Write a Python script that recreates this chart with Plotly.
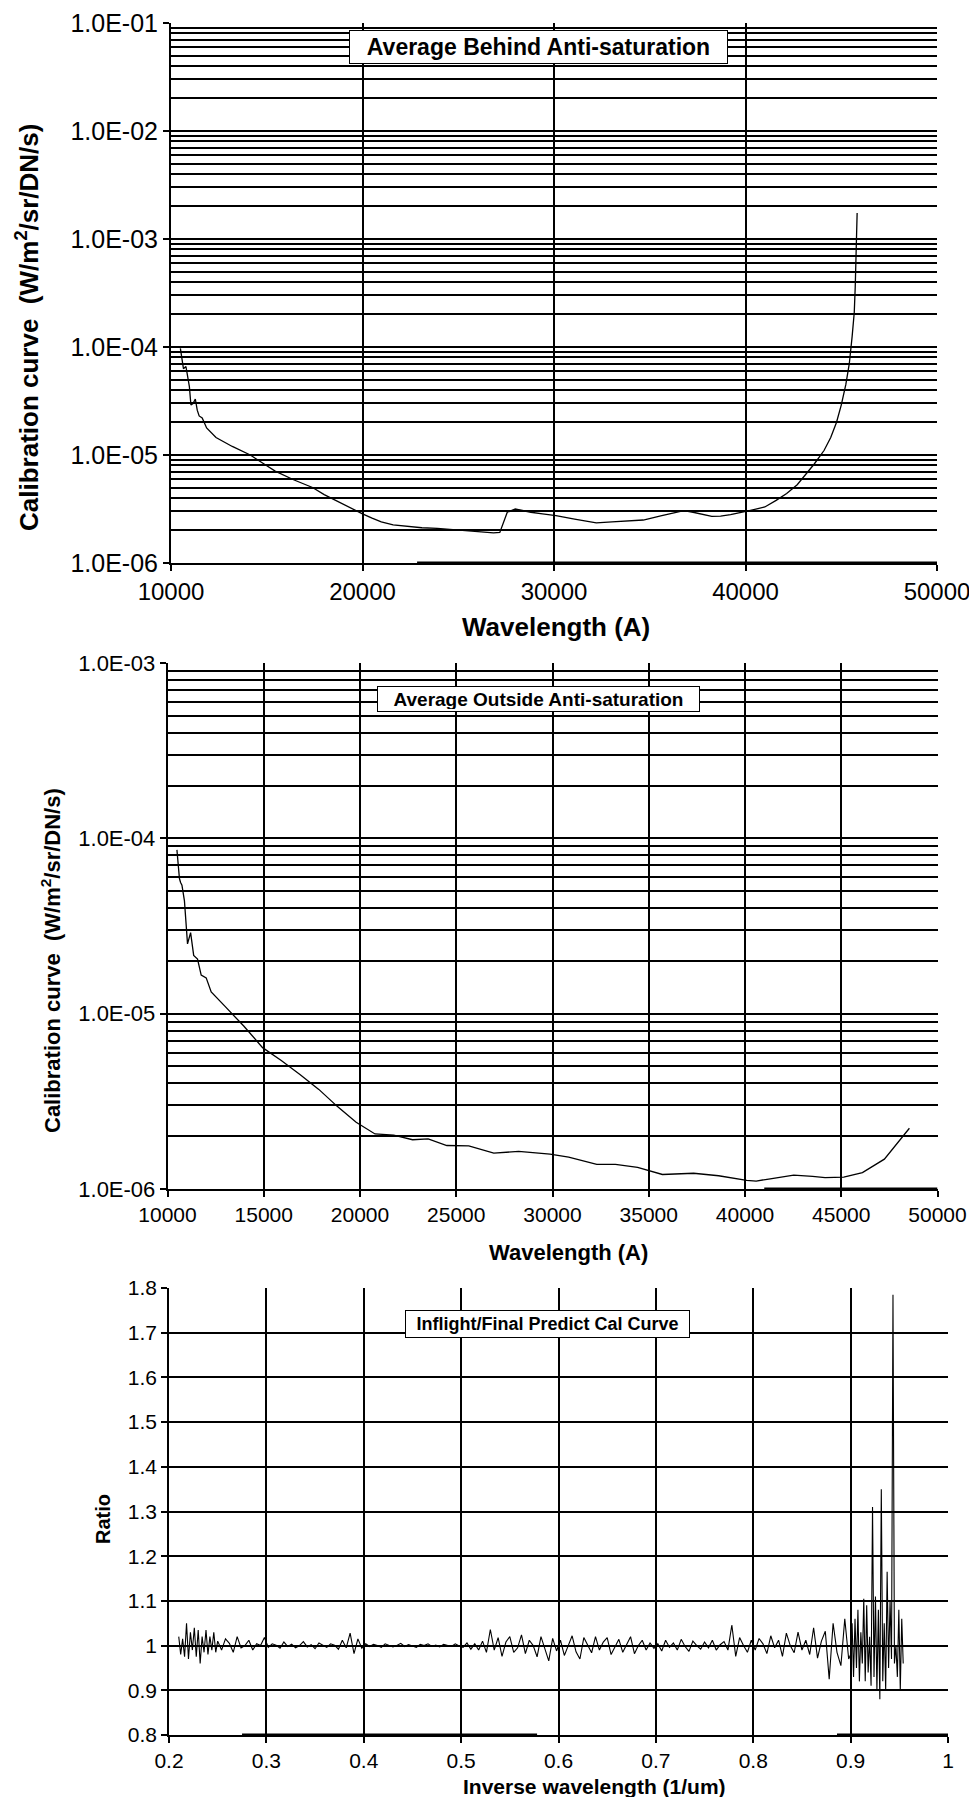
import plotly.graph_objects as go

# ---------------- Data: top panel (Average Behind Anti-saturation) ----------------
top_wl = [10490, 10560, 10650, 10780, 10880, 10960, 11040, 11150, 11270, 11370, 11470, 11630,
          11860, 12350, 13200, 14140, 14800, 15440, 16400, 17390, 18000, 18700, 19400, 20000,
          20500, 20980, 21600, 22280, 23100, 23910, 24700, 25540, 26200, 26840, 27170, 27560,
          27980, 28400, 28790, 29400, 30100, 31075, 31700, 32210, 33030, 34000, 34660, 35630,
          36300, 36780, 37260, 37800, 38240, 38700, 39220, 40200, 41010, 41600, 42150, 42700,
          43130, 43600, 44100, 44450, 44750, 45000, 45240, 45420, 45570, 45680, 45730, 45800, 45830]
top_cal = [9.7e-5, 8.0e-5, 6.3e-5, 6.6e-5, 4.9e-5, 4.3e-5, 2.9e-5, 3.0e-5, 3.3e-5, 2.6e-5, 2.3e-5, 2.2e-5,
           1.78e-5, 1.45e-5, 1.2e-5, 1.0e-5, 8.4e-6, 7.1e-6, 5.9e-6, 5.0e-6, 4.3e-6, 3.7e-6, 3.2e-6, 2.85e-6,
           2.6e-6, 2.4e-6, 2.25e-6, 2.19e-6, 2.12e-6, 2.09e-6, 2.03e-6, 1.99e-6, 1.95e-6, 1.9e-6, 1.92e-6, 2.95e-6,
           3.16e-6, 3.05e-6, 2.95e-6, 2.85e-6, 2.75e-6, 2.55e-6, 2.45e-6, 2.35e-6, 2.4e-6, 2.45e-6, 2.5e-6, 2.75e-6,
           2.9e-6, 3.05e-6, 2.95e-6, 2.8e-6, 2.7e-6, 2.72e-6, 2.8e-6, 3.05e-6, 3.3e-6, 3.8e-6, 4.4e-6, 5.3e-6,
           6.5e-6, 8.3e-6, 1.1e-5, 1.45e-5, 2.0e-5, 2.9e-5, 4.5e-5, 7.0e-5, 1.26e-4, 2.1e-4, 3.6e-4, 8.0e-4, 1.74e-3]
top_floor_wl = [22850, 50000]
top_floor_cal = [1.0e-6, 1.0e-6]

# ---------------- Data: middle panel (Average Outside Anti-saturation) ----------------
mid_wl = [10490, 10560, 10620, 10680, 10750, 10880, 10960, 11040, 11200, 11360, 11560, 11750,
          12010, 12270, 12990, 13960, 14940, 15910, 16880, 17860, 18830, 19800, 20780, 21750,
          22730, 23540, 24510, 25650, 26950, 28240, 29870, 30840, 32300, 33270, 34420, 35710,
          37330, 38630, 40090, 40580, 41230, 42530, 43510, 44160, 45130, 46100, 47240, 48050, 48540]
mid_cal = [8.6e-5, 7.0e-5, 5.9e-5, 5.6e-5, 5.4e-5, 4.4e-5, 3.4e-5, 2.5e-5, 2.9e-5, 2.15e-5, 2.05e-5, 1.66e-5,
           1.6e-5, 1.33e-5, 1.1e-5, 8.5e-6, 6.4e-6, 5.4e-6, 4.5e-6, 3.7e-6, 2.95e-6, 2.4e-6, 2.06e-6, 2.03e-6,
           1.91e-6, 1.93e-6, 1.77e-6, 1.76e-6, 1.6e-6, 1.64e-6, 1.58e-6, 1.52e-6, 1.38e-6, 1.38e-6, 1.33e-6, 1.21e-6,
           1.23e-6, 1.19e-6, 1.12e-6, 1.11e-6, 1.14e-6, 1.2e-6, 1.18e-6, 1.16e-6, 1.17e-6, 1.24e-6, 1.48e-6, 1.91e-6, 2.22e-6]
mid_floor_wl = [41000, 50000]
mid_floor_cal = [1.0e-6, 1.0e-6]

# ---------------- Data: bottom panel (Inflight/Final Predict Cal Curve) ----------------
ratio_x = [0.210, 0.212, 0.214, 0.216, 0.218, 0.220, 0.222, 0.224, 0.226, 0.228,
           0.230, 0.232, 0.234, 0.236, 0.238, 0.240, 0.242, 0.244, 0.246, 0.248, 0.250,
           0.254, 0.258, 0.262, 0.266, 0.270, 0.274, 0.278, 0.282, 0.286, 0.290,
           0.294, 0.298, 0.302, 0.306, 0.310, 0.314, 0.318, 0.322, 0.326, 0.330,
           0.334, 0.338, 0.342, 0.346, 0.350, 0.354, 0.358, 0.362, 0.366, 0.370,
           0.374, 0.378, 0.382, 0.386, 0.390, 0.394, 0.398, 0.402, 0.406, 0.410,
           0.414, 0.418, 0.422, 0.426, 0.430, 0.434, 0.438, 0.442, 0.446, 0.450,
           0.454, 0.458, 0.462, 0.466, 0.470, 0.474, 0.478, 0.482, 0.486, 0.490,
           0.494, 0.498, 0.502, 0.506, 0.510, 0.514, 0.518, 0.522, 0.526, 0.530,
           0.534, 0.538, 0.542, 0.546, 0.550, 0.554, 0.558, 0.562, 0.566, 0.570,
           0.574, 0.578, 0.582, 0.586, 0.590, 0.594, 0.598, 0.602, 0.606, 0.610,
           0.614, 0.618, 0.622, 0.626, 0.630, 0.634, 0.638, 0.642, 0.646, 0.650,
           0.654, 0.658, 0.662, 0.666, 0.670, 0.674, 0.678, 0.682, 0.686, 0.690,
           0.694, 0.698, 0.702, 0.706, 0.710, 0.714, 0.718, 0.722, 0.726, 0.730,
           0.734, 0.738, 0.742, 0.746, 0.750, 0.754, 0.758, 0.762, 0.766, 0.770,
           0.774, 0.778, 0.782, 0.786, 0.790, 0.794, 0.798, 0.802, 0.806, 0.810,
           0.814, 0.818, 0.822, 0.826, 0.830, 0.834, 0.838, 0.842, 0.846, 0.850,
           0.854, 0.858, 0.862, 0.866, 0.870, 0.874, 0.878, 0.882, 0.886, 0.890,
           0.894, 0.898,
           0.9000, 0.9015, 0.9030, 0.9045, 0.9060, 0.9075, 0.9090, 0.9105, 0.9120, 0.9135,
           0.9150, 0.9165, 0.9180, 0.9195, 0.9210, 0.9225, 0.9240, 0.9255, 0.9270, 0.9285,
           0.9300, 0.9315, 0.9330, 0.9345, 0.9360, 0.9375, 0.9390, 0.9405, 0.9420, 0.9435,
           0.9450, 0.9465, 0.9480, 0.9495, 0.9510, 0.9525, 0.9540]
ratio_y = [1.02, 0.98, 1.015, 0.975, 1.05, 0.97, 1.03, 0.99, 1.04, 0.975,
           1.035, 0.96, 1.02, 0.985, 1.035, 0.98, 1.02, 0.99, 1.03, 0.985, 1.01,
           0.99, 1.015, 1.005, 0.985, 1.02, 0.995, 1.0, 1.012, 0.99, 1.004, 1.0, 1.018,
           0.996, 1.004, 1.001, 0.994, 1.008, 0.998, 1.003, 0.995, 1.0, 1.009, 0.997, 1.002,
           0.993, 1.006, 1.0, 0.996, 1.004, 1.001,
           0.992, 1.012, 0.995, 1.028, 0.982, 1.015, 0.994, 1.004,
           0.998, 1.003, 1.0, 0.996, 1.004, 1.001, 0.997, 1.0, 1.005, 0.998, 1.002, 0.999,
           0.996, 1.003, 1.0, 1.004, 0.998, 1.001, 0.997, 1.003, 1.0, 0.998, 1.004, 0.999,
           0.996, 1.006, 0.992, 1.004, 0.99, 1.01, 0.985, 1.036,
           0.99, 1.018, 0.976, 1.008, 1.02, 0.985, 0.995, 1.024, 0.982, 1.012, 1.0, 0.975,
           1.02, 0.992, 0.966, 1.016, 0.988,
           1.012, 0.978, 1.0, 1.022, 0.986, 0.97, 1.018, 1.002, 0.984, 1.02, 0.99, 1.008,
           1.018, 0.98, 0.996, 1.014, 0.985, 1.004, 1.02, 0.982, 1.0, 1.012, 0.99, 1.006, 0.994,
           1.004, 0.988, 1.012, 0.996, 1.006, 0.99, 1.014, 0.998, 0.987, 1.01, 1.0, 0.992,
           1.008, 0.995, 1.012, 0.99, 1.002, 1.009, 0.99,
           1.046, 0.976, 1.018, 1.0, 0.985, 1.012,
           0.99, 1.016, 1.004, 0.982, 1.022, 0.995, 1.012, 0.976, 1.028, 1.0, 0.984, 1.03,
           0.99, 1.012, 0.98,
           1.04, 0.972, 1.01, 1.032, 0.925, 1.05, 0.985, 0.955, 1.06, 0.97,
           0.98, 1.05, 0.93, 1.06, 0.95, 1.08, 0.92, 1.03, 0.96, 1.105,
           0.92, 1.09, 0.94, 1.02, 0.91, 1.31, 0.93, 1.11, 0.90, 1.08,
           0.88, 1.35, 0.92, 1.05, 0.90, 1.165, 0.95, 1.10, 0.97, 1.785,
           0.96, 1.0, 0.93, 1.08, 0.90, 1.06, 0.96]
ratio_floor_x = [0.275, 0.578, None, 0.886, 1.0]
ratio_floor_y = [0.8, 0.8, None, 0.8, 0.8]

# ---------------- Figure ----------------
FONT = "Liberation Sans, Arial, sans-serif"
PAGE_OFF = 8            # default body margin of the html page
W, H = 977 - 2 * PAGE_OFF, 1805 - 2 * PAGE_OFF

def px_x(v):
    return (v - PAGE_OFF) / W

def px_y(v):
    return 1 - (v - PAGE_OFF) / H

fig = go.Figure()
line_style = dict(color="black", width=1.3)
fig.add_trace(go.Scatter(x=top_wl, y=top_cal, mode="lines", line=line_style, xaxis="x", yaxis="y"))
fig.add_trace(go.Scatter(x=top_floor_wl, y=top_floor_cal, mode="lines", line=dict(color="black", width=3), xaxis="x", yaxis="y"))
fig.add_trace(go.Scatter(x=mid_wl, y=mid_cal, mode="lines", line=line_style, xaxis="x2", yaxis="y2"))
fig.add_trace(go.Scatter(x=mid_floor_wl, y=mid_floor_cal, mode="lines", line=dict(color="black", width=3), xaxis="x2", yaxis="y2"))
fig.add_trace(go.Scatter(x=ratio_x, y=ratio_y, mode="lines", line=dict(color="black", width=1.1), xaxis="x3", yaxis="y3"))
fig.add_trace(go.Scatter(x=ratio_floor_x, y=ratio_floor_y, mode="lines", line=dict(color="black", width=3), xaxis="x3", yaxis="y3", connectgaps=False))

def log_minor(e0, e1):
    return [m * 10.0 ** e for e in range(e0, e1) for m in range(2, 10)]

def sci_label(e):
    return "1.0E-%02d" % (-e)

common = dict(automargin=False, zeroline=False, showline=True, linecolor="black", ticks="outside",
              ticklen=6, tickcolor="black", ticklabeloverflow="allow")

fig.update_layout(
    template="none",
    xaxis=dict(domain=[px_x(171), px_x(937)], range=[10000, 50000], tickvals=[10000, 20000, 30000, 40000, 50000],
               tickformat="d", showgrid=False, linewidth=2, tickwidth=2, anchor="y",
               tickfont=dict(family=FONT, size=24, color="black"),
               minor=dict(tickvals=[20000, 30000, 40000], showgrid=True, gridcolor="black", gridwidth=2, ticks=""),
               **common),
    yaxis=dict(domain=[px_y(563), px_y(23)], type="log", range=[-6, -1],
               tickvals=[10.0 ** e for e in range(-6, 0)], ticktext=[sci_label(e) for e in range(-6, 0)],
               showgrid=True, gridcolor="black", gridwidth=2, linewidth=2, tickwidth=2, anchor="x",
               tickfont=dict(family=FONT, size=25, color="black"),
               minor=dict(tickvals=log_minor(-6, -1), showgrid=True, gridcolor="black", gridwidth=2, ticks=""),
               **common),
    xaxis2=dict(domain=[px_x(167.5), px_x(937.5)], range=[10000, 50000], dtick=5000, tick0=10000,
                tickformat="d", showgrid=True, gridcolor="black", gridwidth=1.5, linewidth=1.5, tickwidth=1.5,
                anchor="y2", tickfont=dict(family=FONT, size=21, color="black"), **common),
    yaxis2=dict(domain=[px_y(1189), px_y(663)], type="log", range=[-6, -3],
                tickvals=[10.0 ** e for e in range(-6, -2)], ticktext=[sci_label(e) for e in range(-6, -2)],
                showgrid=True, gridcolor="black", gridwidth=1.5, linewidth=1.5, tickwidth=1.5, anchor="x2",
                tickfont=dict(family=FONT, size=22, color="black"),
                minor=dict(tickvals=log_minor(-6, -3), showgrid=True, gridcolor="black", gridwidth=1.5, ticks=""),
                **common),
    xaxis3=dict(domain=[px_x(169), px_x(948)], range=[0.2, 1.0], dtick=0.1, tick0=0.2,
                showgrid=True, gridcolor="black", gridwidth=1.6, linewidth=1.6, tickwidth=1.5, anchor="y3",
                tickfont=dict(family=FONT, size=21, color="black"), **common),
    yaxis3=dict(domain=[px_y(1735), px_y(1288)], range=[0.8, 1.8], dtick=0.1, tick0=0.8,
                showgrid=True, gridcolor="black", gridwidth=1.6, linewidth=1.6, tickwidth=1.5, anchor="x3",
                tickfont=dict(family=FONT, size=21, color="black"), **common),
)

ann = []
ann.append(dict(text="<b>Average Behind Anti-saturation</b>", x=px_x(538.5), y=px_y(46.5), width=373, height=28,
                font=dict(family=FONT, size=23, color="black")))
ann.append(dict(text="<b>Average Outside Anti-saturation</b>", x=px_x(538.5), y=px_y(699), width=317, height=20,
                font=dict(family=FONT, size=19, color="black")))
ann.append(dict(text="<b>Inflight/Final Predict Cal Curve</b>", x=px_x(547.5), y=px_y(1324), width=279, height=22,
                font=dict(family=FONT, size=18, color="black")))
for a in ann:
    a.update(xref="paper", yref="paper", xanchor="center", yanchor="middle", showarrow=False,
             bordercolor="black", borderwidth=1, borderpad=2, bgcolor="white")

titles = [
    dict(text="<b>Calibration curve  (W/m<sup>2</sup>/sr/DN/s)</b>", x=px_x(28), y=px_y(328), textangle=-90, size=26),
    dict(text="<b>Wavelength (A)</b>", x=px_x(556), y=px_y(627), textangle=0, size=26),
    dict(text="<b>Calibration curve  (W/m<sup>2</sup>/sr/DN/s)</b>", x=px_x(51), y=px_y(961), textangle=-90, size=22),
    dict(text="<b>Wavelength (A)</b>", x=px_x(568), y=px_y(1252), textangle=0, size=22),
    dict(text="<b>Ratio</b>", x=px_x(103), y=px_y(1519), textangle=-90, size=20),
    dict(text="<b>Inverse wavelength (1/um)</b>", x=px_x(594.5), y=px_y(1786), textangle=0, size=21),
]
for t in titles:
    ann.append(dict(text=t["text"], x=t["x"], y=t["y"], textangle=t["textangle"], xref="paper", yref="paper",
                    xanchor="center", yanchor="middle", showarrow=False,
                    font=dict(family=FONT, size=t["size"], color="black")))

fig.update_layout(
    width=W, height=H, margin=dict(l=0, r=0, t=0, b=0, autoexpand=False),
    paper_bgcolor="white", plot_bgcolor="white", showlegend=False,
    annotations=ann, font=dict(family=FONT, color="black"),
)

fig.write_html("out.html")
